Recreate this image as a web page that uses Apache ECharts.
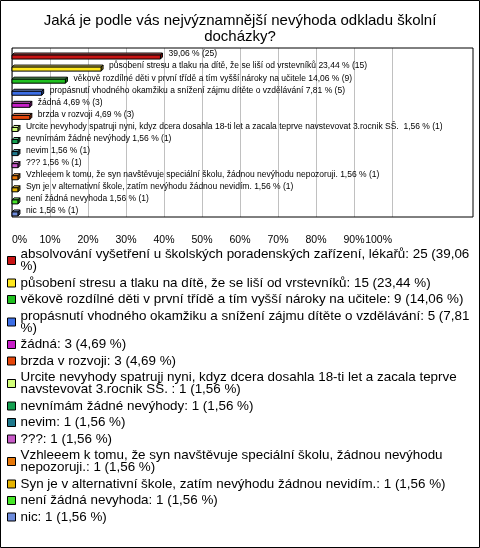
<!DOCTYPE html>
<html>
<head>
<meta charset="utf-8">
<script src="https://cdn.jsdelivr.net/npm/echarts@6/dist/echarts.min.js"></script>
<style>
html,body{margin:0;padding:0;background:#fff;}
#chart{width:480px;height:548px;}
</style>
</head>
<body>
<div id="chart"></div>
<script>
var titleText = 'Jaká je podle vás nejvýznamnější nevýhoda odkladu školní\ndocházky?';
var categories = [
  'absolvování vyšetření u školských poradenských zařízení, lékařů',
  'působení stresu a tlaku na dítě, že se liší od vrstevníků',
  'věkově rozdílné děti v první třídě a tím vyšší nároky na učitele',
  'propásnutí vhodného okamžiku a snížení zájmu dítěte o vzdělávání',
  'žádná',
  'brzda v rozvoji',
  'Urcite nevyhody spatruji nyni, kdyz dcera dosahla 18-ti let a zacala teprve navstevovat 3.rocnik SŠ. ',
  'nevnímám žádné nevýhody',
  'nevim',
  '???',
  'Vzhleeem k tomu, že syn navštěvuje speciální školu, žádnou nevýhodu nepozoruji.',
  'Syn je v alternativní škole, zatím nevýhodu žádnou nevidím.',
  'není žádná nevyhoda',
  'nic'
];
var counts = [25, 15, 9, 5, 3, 3, 1, 1, 1, 1, 1, 1, 1, 1];
var percents = [39.06, 23.44, 14.06, 7.81, 4.69, 4.69, 1.56, 1.56, 1.56, 1.56, 1.56, 1.56, 1.56, 1.56];
var barLabelShowsName = [false, true, true, true, true, true, true, true, true, true, true, true, true, true];
var colors = ['#c81414', '#ffe81e', '#20c020', '#3c6ee6', '#c81ec8', '#e6460a', '#d2ff78',
              '#14a050', '#1e788c', '#c85ac8', '#e6780a', '#e6b400', '#46e628', '#6e8cdc'];
var xTicks = [0, 100, 10];

var FONT = '"Liberation Sans", Arial, sans-serif';
var LEGEND_FONT_SIZE = 13.4;
var LEGEND_LINE_HEIGHT = 12;
var LEGEND_TEXT_WIDTH = 455;

function fmtPct(p) { return p.toFixed(2).replace('.', ','); }
function shade(hex, f) {
  var r = parseInt(hex.substr(1, 2), 16), g = parseInt(hex.substr(3, 2), 16), b = parseInt(hex.substr(5, 2), 16);
  function m(c) { return Math.round(f >= 0 ? c + (255 - c) * f : c * (1 + f)); }
  return 'rgb(' + m(r) + ',' + m(g) + ',' + m(b) + ')';
}
var measureCtx = document.createElement('canvas').getContext('2d');
function wrapLines(text, fontSize, maxW) {
  measureCtx.font = fontSize + 'px ' + FONT;
  var words = text.split(' ');
  var lines = [], cur = null;
  for (var i = 0; i < words.length; i++) {
    var test = cur === null ? words[i] : cur + ' ' + words[i];
    if (cur !== null && measureCtx.measureText(test).width > maxW) {
      lines.push(cur);
      cur = words[i];
    } else {
      cur = test;
    }
  }
  if (cur !== null) lines.push(cur);
  return lines;
}
var legendLines = categories.map(function (name, i) {
  return wrapLines(name + ': ' + counts[i] + ' (' + fmtPct(percents[i]) + ' %)', LEGEND_FONT_SIZE, LEGEND_TEXT_WIDTH);
});

function renderItem(params, api) {
  var v = api.value(0), idx = api.value(1);
  var p0 = api.coord([0, idx]);
  var p1 = api.coord([v, idx]);
  var c = p0[1];
  var x0 = p0[0], x1 = p1[0];
  var d = 2;
  var yTop = c + 1, yBot = c + 5;
  var col = api.visual('color');
  var si = params.seriesIndex;
  var label = (barLabelShowsName[si] ? categories[si] + ' ' : '') + fmtPct(percents[si]) + ' % (' + counts[si] + ')';
  return {
    type: 'group',
    children: [
      { type: 'polygon', shape: { points: [[x0, yTop], [x0 + d, yTop - d], [x1 + d, yTop - d], [x1, yTop]] },
        style: { fill: shade(col, 0.35), stroke: '#000', lineWidth: 1 } },
      { type: 'polygon', shape: { points: [[x1, yTop], [x1 + d, yTop - d], [x1 + d, yBot - d], [x1, yBot]] },
        style: { fill: shade(col, -0.35), stroke: '#000', lineWidth: 1 } },
      { type: 'rect', shape: { x: x0, y: yTop, width: x1 - x0, height: yBot - yTop },
        style: { fill: col, stroke: '#000', lineWidth: 1 } },
      { type: 'text', x: x1 + d + 6, y: c,
        style: { text: label, fill: '#000', fontSize: 8.5, fontFamily: FONT, verticalAlign: 'middle', align: 'left' } }
    ]
  };
}

var series = categories.map(function (name, i) {
  return {
    type: 'custom',
    name: name,
    xAxisIndex: 0,
    yAxisIndex: 0,
    itemStyle: { color: colors[i] },
    renderItem: renderItem,
    data: [[percents[i], i]],
    clip: false,
    silent: true
  };
});

var chart = echarts.init(document.getElementById('chart'), null, { renderer: 'canvas' });
chart.setOption({
  animation: false,
  backgroundColor: '#fff',
  color: colors,
  title: {
    text: titleText,
    left: 'center',
    top: 13,
    padding: 0,
    textStyle: { fontSize: 15, fontWeight: 'normal', color: '#000', fontFamily: FONT, lineHeight: 16 }
  },
  graphic: [{
    type: 'rect', silent: true, z: 100,
    shape: { x: 0.5, y: 0.5, width: 479, height: 547 },
    style: { fill: 'none', stroke: '#000', lineWidth: 1 }
  }],
  grid: [
    { left: 12, top: 48, width: 380, height: 169 },
    { left: 12, top: 48, right: 7, height: 169, show: true, borderColor: '#000', borderWidth: 1, backgroundColor: 'transparent', z: 1 }
  ],
  xAxis: [
    {
      gridIndex: 0, type: 'value', min: xTicks[0], max: xTicks[1], interval: xTicks[2],
      axisLine: { show: false }, axisTick: { show: false },
      splitLine: { show: true, lineStyle: { color: '#c0c0c0', width: 1 } },
      axisLabel: { formatter: '{value}%', margin: 18, fontSize: 10.5, color: '#000', fontFamily: FONT,
                   alignMinLabel: 'left', alignMaxLabel: 'right' }
    },
    { gridIndex: 1, type: 'value', show: false, min: 0, max: 1 }
  ],
  yAxis: [
    {
      gridIndex: 0, type: 'category', data: categories, inverse: true,
      axisLine: { show: false }, axisTick: { show: false }, axisLabel: { show: false }, splitLine: { show: false }
    },
    { gridIndex: 1, type: 'value', show: false, min: 0, max: 1 }
  ],
  legend: {
    orient: 'vertical',
    left: 7,
    top: 248,
    bottom: 0,
    padding: 0,
    itemWidth: 8,
    itemHeight: 8,
    itemGap: 3.5,
    icon: 'rect',
    selectedMode: false,
    itemStyle: { borderColor: '#000', borderWidth: 1 },
    textStyle: { fontSize: LEGEND_FONT_SIZE, fontFamily: FONT, color: '#000', lineHeight: LEGEND_LINE_HEIGHT, height: LEGEND_LINE_HEIGHT },
    data: categories.map(function (name, i) {
      var extra = legendLines[i].length > 1 ? 2.6 : 0;
      return { name: name, textStyle: { padding: [extra, 0, extra, 0] } };
    }),
    formatter: function (name) {
      return legendLines[categories.indexOf(name)].join('\n');
    }
  },
  series: series
});
</script>
</body>
</html>
